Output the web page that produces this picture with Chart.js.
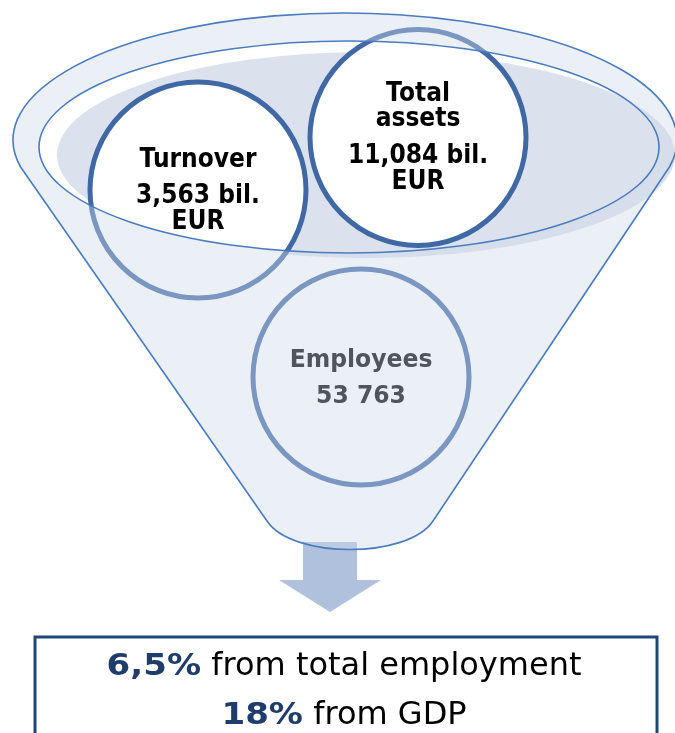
<!DOCTYPE html>
<html>
<head>
<meta charset="utf-8">
<script src="https://cdn.jsdelivr.net/npm/chart.js@4/dist/chart.umd.min.js"></script>
<style>
html,body{margin:0;padding:0;background:#fff;}
#wrap{width:675px;height:733px;position:relative;}
</style>
</head>
<body>
<div id="wrap"><canvas id="c"></canvas></div>
<script>
// ---- data ----
const metricNames = ['Turnover', 'Total assets', 'Employees'];
const metricValues = ['3,563 bil. EUR', '11,084 bil. EUR', '53 763'];
const shareValues = ['6,5%', '18%'];
const shareLabels = ['from total employment', 'from GDP'];

// ---- layout (drawing units = pixels of the 675x733 picture) ----
const circleLayout = [
  {x: 198, y: 190, r: 108, lines: ['Turnover', '3,563 bil.', 'EUR'], ys: [167, 203, 229], color: '#000000', size: 26, sx: 0.9},
  {x: 418, y: 137.5, r: 108, lines: ['Total', 'assets', '11,084 bil.', 'EUR'], ys: [101, 126, 163, 189], color: '#000000', size: 26, sx: 0.9},
  {x: 361, y: 377, r: 108, lines: ['Employees', '53 763'], ys: [367, 403], color: '#50545c', size: 25, sx: 0.94}
];

const funnelPlugin = {
  id: 'funnel',
  beforeDatasetsDraw(chart) {
    const ctx = chart.ctx, X = chart.scales.x, Y = chart.scales.y;
    const px = v => X.getPixelForValue(v), py = v => Y.getPixelForValue(v);
    ctx.save();
    // opening shading
    ctx.beginPath();
    ctx.ellipse(px(366), py(155), px(309) - px(0), py(103) - py(0), 0, 0, Math.PI * 2);
    ctx.fillStyle = '#dce2ed';
    ctx.fill();
    // arrow
    ctx.beginPath();
    ctx.moveTo(px(303), py(542));
    ctx.lineTo(px(357), py(542));
    ctx.lineTo(px(357), py(580));
    ctx.lineTo(px(381), py(580));
    ctx.lineTo(px(330), py(612));
    ctx.lineTo(px(279), py(580));
    ctx.lineTo(px(303), py(580));
    ctx.closePath();
    ctx.fillStyle = '#b0c1dd';
    ctx.fill();
    ctx.restore();
  },
  afterDatasetsDraw(chart) {
    const ctx = chart.ctx, X = chart.scales.x, Y = chart.scales.y;
    const px = v => X.getPixelForValue(v), py = v => Y.getPixelForValue(v);
    ctx.save();
    // silhouette
    const ocx = 345, ocy = 140, orx = 332, ory = 127;
    const a0 = Math.asin(27 / ory);
    const sil = new Path2D();
    sil.ellipse(px(ocx), py(ocy), px(orx) - px(0), py(ory) - py(0), 0, Math.PI - a0, 2 * Math.PI + a0, false);
    sil.lineTo(px(433), py(521));
    sil.bezierCurveTo(px(408), py(559), px(292), py(559), px(267), py(521));
    sil.closePath();
    const hole = new Path2D();
    hole.ellipse(px(349), py(147), px(310) - px(0), py(106) - py(0), 0, 0, Math.PI * 2);
    const over = new Path2D();
    over.addPath(sil);
    over.addPath(hole);
    ctx.fillStyle = 'rgba(207,216,233,0.41)';
    ctx.fill(over, 'evenodd');
    ctx.strokeStyle = '#4a7cbf';
    ctx.lineWidth = 1.6;
    ctx.stroke(sil);
    ctx.stroke(hole);

    // circle labels
    ctx.textAlign = 'center';
    ctx.textBaseline = 'alphabetic';
    circleLayout.forEach(c => {
      ctx.fillStyle = c.color;
      ctx.font = 'bold ' + c.size + 'px "DejaVu Sans", Verdana, sans-serif';
      c.lines.forEach((t, i) => {
        ctx.save();
        ctx.translate(px(c.x), py(c.ys[i]));
        ctx.scale(c.sx, 1);
        ctx.fillText(t, 0, 0);
        ctx.restore();
      });
    });

    // result box
    ctx.strokeStyle = '#1f4878';
    ctx.lineWidth = 3;
    ctx.strokeRect(px(35), py(637), px(657) - px(35), py(760) - py(637));
    const rowYs = [675, 724];
    shareValues.forEach((v, i) => {
      const boldFont = 'bold 31px "DejaVu Sans", Verdana, sans-serif';
      const normFont = '32px "DejaVu Sans", Verdana, sans-serif';
      const bsx = 1.1;
      const rest = ' ' + shareLabels[i];
      ctx.font = boldFont; const w1 = ctx.measureText(v).width * bsx;
      ctx.font = normFont; const w2 = ctx.measureText(rest).width;
      const start = px(344) - (w1 + w2) / 2;
      ctx.textAlign = 'left';
      ctx.font = boldFont; ctx.fillStyle = '#1f3d6a';
      ctx.save();
      ctx.translate(start, py(rowYs[i]));
      ctx.scale(bsx, 1);
      ctx.fillText(v, 0, 0);
      ctx.restore();
      ctx.font = normFont; ctx.fillStyle = '#000000';
      ctx.fillText(rest, start + w1, py(rowYs[i]));
    });
    ctx.restore();
  }
};

new Chart(document.getElementById('c'), {
  type: 'bubble',
  data: {
    datasets: circleLayout.map((c, i) => ({
      label: metricNames[i] + ' ' + metricValues[i],
      data: [{x: c.x, y: c.y, r: c.r}],
      backgroundColor: '#ffffff',
      borderColor: '#3f68a5',
      borderWidth: 5,
      hoverRadius: 0,
      clip: false
    }))
  },
  options: {
    responsive: true,
    maintainAspectRatio: false,
    animation: false,
    layout: {padding: 0, autoPadding: false},
    plugins: {legend: {display: false}, tooltip: {enabled: false}},
    scales: {
      x: {type: 'linear', min: 0, max: 675, display: false},
      y: {type: 'linear', min: 0, max: 733, reverse: true, display: false}
    },
    events: []
  },
  plugins: [funnelPlugin]
});
</script>
</body>
</html>
